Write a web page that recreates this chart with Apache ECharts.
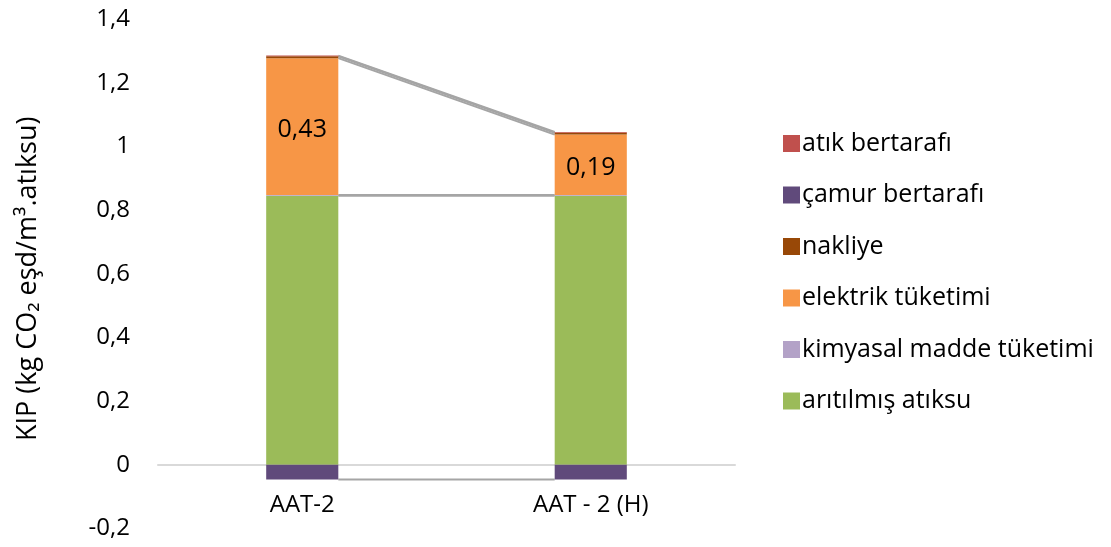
<!DOCTYPE html>
<html>
<head>
<meta charset="utf-8">
<script src="https://cdn.jsdelivr.net/npm/echarts@6/dist/echarts.min.js"></script>
<style>
  html, body { margin: 0; padding: 0; background: #fff; }
  #chart { width: 1111px; height: 547px; }
</style>
</head>
<body>
<div id="chart"></div>
<script>
// Categories (x axis)
const categories = ['AAT-2', 'AAT - 2 (H)'];

// Stack components, bottom to top (kg CO2 eşd / m³ atıksu)
const aritilmisAtiksu = [0.845, 0.845];
const kimyasalMadde = [0.002, 0.002];
const elektrikTuketimi = [0.43, 0.19];
const nakliye = [0.006, 0.006];
const camurBertarafi = [-0.046, -0.046];
const atikBertarafi = [0.002, 0.002];

// Y axis ticks
const yMin = -0.2;
const yMax = 1.4;
const yStep = 0.2;

const FONT = 'Open Sans';

const stackSeries = [
  { name: 'arıtılmış atıksu', data: aritilmisAtiksu, color: '#9BBB59' },
  { name: 'kimyasal madde tüketimi', data: kimyasalMadde, color: '#B3A2C7' },
  { name: 'elektrik tüketimi', data: elektrikTuketimi, color: '#F79646', label: true },
  { name: 'nakliye', data: nakliye, color: '#984807' },
  { name: 'çamur bertarafı', data: camurBertarafi, color: '#604A7B' },
  { name: 'atık bertarafı', data: atikBertarafi, color: '#C0504D' }
];

// Edge of each segment (top for positive, bottom for negative) per category,
// used for the connecting series lines between the two columns.
function segmentEdges() {
  const edges = [];
  const pos = categories.map(() => 0);
  const neg = categories.map(() => 0);
  stackSeries.forEach(s => {
    const e = s.data.map((v, i) => {
      if (v >= 0) { pos[i] += v; return pos[i]; }
      neg[i] += v; return neg[i];
    });
    edges.push(e);
  });
  return edges;
}
const edges = segmentEdges();
const BAR_FRACTION = 0.25;

const barSeries = stackSeries.map(s => ({
  name: s.name,
  type: 'bar',
  stack: 'total',
  barWidth: (BAR_FRACTION * 100) + '%',
  data: s.data,
  itemStyle: { color: s.color },
  label: s.label ? {
    show: true,
    position: 'inside',
    offset: [0, 3],
    color: '#000',
    fontFamily: FONT,
    fontSize: 25,
    formatter: p => p.value.toFixed(2).replace('.', ',')
  } : { show: false },
  emphasis: { disabled: true }
}));

const seriesLines = {
  type: 'custom',
  name: 'seriesLines',
  silent: true,
  z: 1,
  data: [[0]],
  renderItem: function (params, api) {
    const band = api.size([1, 0])[0];
    const half = band * BAR_FRACTION / 2;
    const children = edges.map(e => {
      const a = api.coord([0, e[0]]);
      const b = api.coord([1, e[1]]);
      return {
        type: 'line',
        shape: { x1: a[0] + half, y1: a[1], x2: b[0] - half, y2: b[1] },
        style: { stroke: '#A5A5A5', lineWidth: 2 }
      };
    });
    return { type: 'group', children: children };
  }
};

const chart = echarts.init(document.getElementById('chart'), null, { renderer: 'canvas' });
chart.setOption({
  animation: false,
  backgroundColor: '#fff',
  textStyle: { fontFamily: FONT },
  grid: { left: 158, right: 376, top: 19, bottom: 18.5, containLabel: false, outerBoundsMode: 'none' },
  legend: {
    orient: 'vertical',
    left: 778,
    top: 126,
    itemWidth: 17,
    itemHeight: 17,
    itemGap: 26.5,
    icon: 'rect',
    textStyle: { fontFamily: FONT, fontSize: 25, color: '#000', padding: [0, 0, 0, -3] },
    data: stackSeries.map(s => s.name).reverse()
  },
  xAxis: {
    type: 'category',
    data: categories,
    axisLine: { onZero: true, lineStyle: { color: '#D9D9D9', width: 2 } },
    axisTick: { show: false },
    axisLabel: { color: '#000', fontFamily: FONT, fontSize: 24, margin: -35 }
  },
  yAxis: {
    type: 'value',
    min: yMin,
    max: yMax,
    interval: yStep,
    name: 'KIP (kg CO₂ eşd/m³.atıksu)',
    nameLocation: 'middle',
    nameGap: 116,
    nameTextStyle: { color: '#000', fontFamily: FONT, fontSize: 27, padding: [0, 10, 0, 0] },
    axisLine: { show: false },
    axisTick: { show: false },
    splitLine: { show: false },
    axisLabel: {
      color: '#000',
      fontFamily: FONT,
      fontSize: 24,
      margin: 28,
      formatter: v => {
        const r = Math.round(v * 10) / 10;
        return String(r).replace('.', ',');
      }
    }
  },
  series: [seriesLines].concat(barSeries)
});
</script>
</body>
</html>
